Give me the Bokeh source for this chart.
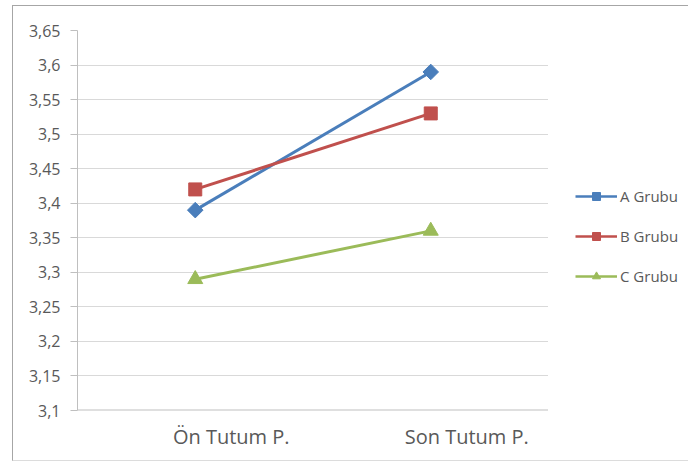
import math
from bokeh.plotting import figure
from bokeh.layouts import row, column
from bokeh.models import (FactorRange, FixedTicker, Legend, LegendItem, Range1d,
                          LinearAxis, Span)
from bokeh.embed import file_html
from bokeh.resources import INLINE

# ---- data ----
categories = ["Ön Tutum P.", "Son Tutum P."]
series_names = ["A Grubu", "B Grubu", "C Grubu"]
a_values = [3.39, 3.59]
b_values = [3.42, 3.53]
c_values = [3.29, 3.36]
y_ticks = [3.1, 3.15, 3.2, 3.25, 3.3, 3.35, 3.4, 3.45, 3.5, 3.55, 3.6, 3.65]
y_tick_labels = ["3,1", "3,15", "3,2", "3,25", "3,3", "3,35", "3,4", "3,45",
                 "3,5", "3,55", "3,6", "3,65"]

FONT = "Open Sans"
TXT = "#595959"
AX = "#bfbfbf"

p = figure(width=535, height=414, x_range=FactorRange(*categories, range_padding=0),
           y_range=Range1d(3.1, 3.65), output_backend="svg", toolbar_location=None,
           min_border_left=64, min_border_right=0, min_border_top=24,
           min_border_bottom=10)
p.outline_line_color = None
p.background_fill_color = "white"
p.border_fill_color = "white"
p.xaxis.visible = False

# grid
p.xgrid.grid_line_color = None
p.ygrid.grid_line_color = "#d9d9d9"
p.ygrid.grid_line_width = 1
p.ygrid.ticker = FixedTicker(ticks=y_ticks)

# horizontal (category) axis line at the bottom of the value range
p.add_layout(Span(location=y_ticks[0], dimension="width", line_color=AX,
                  line_width=2))

# y axis
p.yaxis.ticker = FixedTicker(ticks=y_ticks)
p.yaxis.major_label_overrides = {t: l for t, l in zip(y_ticks, y_tick_labels)}
p.yaxis.axis_line_color = AX
p.yaxis.major_tick_line_color = AX
p.yaxis.major_tick_out = 7
p.yaxis.major_tick_in = 0
p.yaxis.minor_tick_line_color = None
p.yaxis.major_label_standoff = 10
p.yaxis.major_label_text_font = FONT
p.yaxis.major_label_text_font_size = "16px"
p.yaxis.major_label_text_color = TXT

# category label strip under the plot: the labels sit a little right of the
# category centres, as in the original
label_pos = [0.5, 1.5]
xa = figure(width=535, height=40, x_range=Range1d(-0.153, 1.847),
            y_range=Range1d(0, 1), output_backend="svg", toolbar_location=None,
            min_border_left=64, min_border_right=0, min_border_top=0,
            min_border_bottom=39, x_axis_location=None, y_axis_location=None)
xa.grid.visible = False
xa.outline_line_color = None
xa.border_fill_color = "white"
xlab = LinearAxis(ticker=FixedTicker(ticks=label_pos),
                  major_label_overrides={t: c for t, c in zip(label_pos, categories)})
xlab.axis_line_color = None
xlab.major_tick_line_color = None
xlab.major_tick_out = 0
xlab.major_tick_in = 0
xlab.minor_tick_line_color = None
xlab.major_label_standoff = 1
xlab.major_label_text_font = FONT
xlab.major_label_text_font_size = "20px"
xlab.major_label_text_color = TXT
xa.add_layout(xlab, "below")

colors = ["#4a7ebb", "#c0504d", "#9bbb59"]
values = [a_values, b_values, c_values]
markers = ["square", "square", "triangle"]
angles = [math.pi / 4, 0, 0]
sizes = [11, 13, 15]
legend_sizes = [8, 11, 11]

# legend lives in its own narrow panel to the right of the plot
lg = figure(width=140, height=454, x_range=FactorRange(*categories),
            y_range=Range1d(10, 11), output_backend="svg", toolbar_location=None,
            min_border_left=27, min_border_right=0, min_border_top=180,
            min_border_bottom=0)
lg.axis.visible = False
lg.grid.visible = False
lg.outline_line_color = None
lg.border_fill_color = "white"

items = []
for name, vals, col, mk, ang, sz, lsz in zip(series_names, values, colors, markers,
                                             angles, sizes, legend_sizes):
    p.line(categories, vals, line_color=col, line_width=3)
    p.scatter(categories, vals, marker=mk, angle=ang, size=sz, fill_color=col,
              line_color=col)
    # off-range copies that only feed the legend glyphs
    l2 = lg.line(categories, vals, line_color=col, line_width=2.5)
    s2 = lg.scatter(categories, vals, marker=mk, angle=ang, size=lsz,
                    fill_color=col, line_color=col)
    items.append(LegendItem(label=name, renderers=[l2, s2]))

legend = Legend(items=items, location="top_left", orientation="vertical",
                glyph_width=42, glyph_height=20, spacing=20, padding=0, margin=0,
                label_standoff=3, border_line_color=None,
                background_fill_alpha=0, label_text_font=FONT,
                label_text_font_size="15px", label_text_color=TXT)
lg.add_layout(legend, "center")

layout = row(column(p, xa), lg)
layout.styles = {"margin-left": "12px", "margin-top": "5px",
                 "border-left": "1px solid #a6a6a6",
                 "border-top": "1px solid #a6a6a6",
                 "border-bottom": "1px solid #dcdcdc"}

open("out.html", "w").write(file_html(layout, INLINE))
